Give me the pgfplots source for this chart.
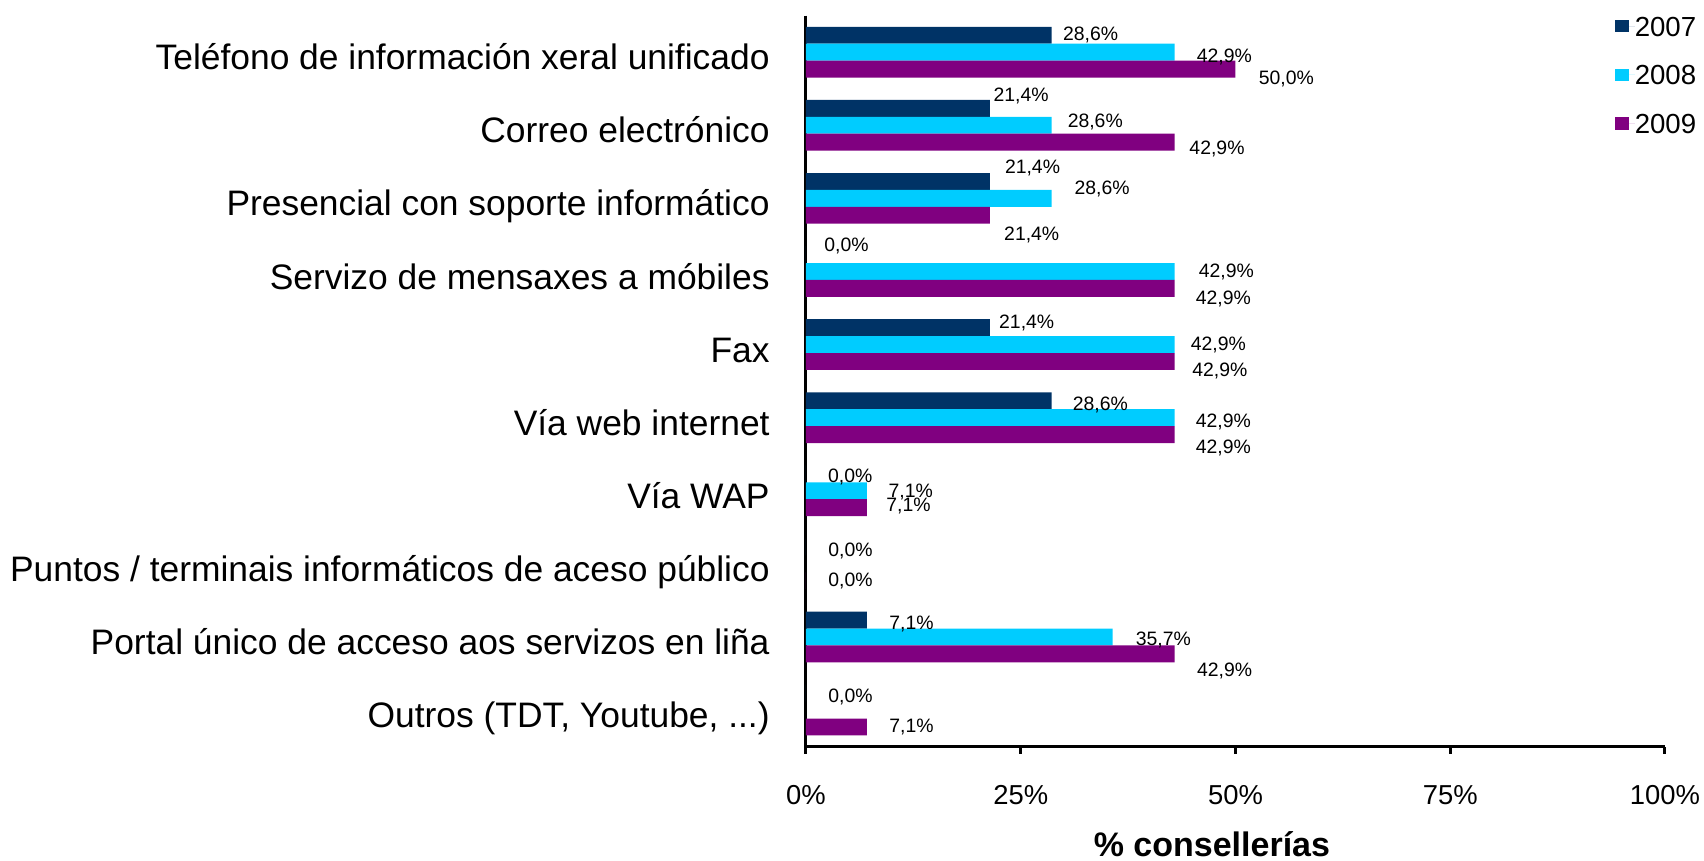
\documentclass[border=0pt]{standalone}
\usepackage{fontspec}
\setmainfont{Liberation Sans}
\usepackage{pgfplots}
\usepackage{pgfplotstable}
\pgfplotsset{compat=1.18}

\definecolor{c2007}{RGB}{0,51,102}
\definecolor{c2008}{RGB}{0,204,255}
\definecolor{c2009}{RGB}{128,0,128}
\newcommand{\puntos}{...}

% y = row (0 = top), x = value in %, dx/dy = label offset in pt
\pgfplotstableread{
y x dx dy
0 28.6 5.5 0
1 21.4 1.7 6
2 21.4 7.4 6.85
3 0 9 4.3
4 21.4 4.5 2.15
5 28.6 10.4 -2.25
6 0 10.9 -1.7
7 0 11 -1.8
8 7.1 11 -1.75
9 0 11 -1.9
}\tsiete
\pgfplotstableread{
y x dx dy
0 42.9 11 -2.35
1 28.6 7.85 1.85
2 28.6 11.3 4.5
3 42.9 12 -0.5
4 42.9 8 0
5 42.9 10.5 -2
6 7.1 10.65 -0.85
7 nan 0 0
8 35.7 11.4 -1.6
9 nan 0 0
}\tocho
\pgfplotstableread{
y x dx dy
0 50.0 11.5 -5.2
1 42.9 7.3 -3.35
2 21.4 7 -10
3 42.9 10.5 -5.5
4 42.9 8.75 -5
5 42.9 10.5 -6.5
6 7.1 9.5 0.95
7 0 11 -0.35
8 42.9 11.1 -8.8
9 7.1 11 -0.25
}\tnove

\pgfplotsset{
    etiq/.style={
        forget plot,
        visualization depends on={\thisrow{dx} \as \etdx},
        visualization depends on={\thisrow{dy} \as \etdy},
        nodes near coords={\pgfmathprintnumber[fixed, fixed zerofill, precision=1, use comma]{\pgfplotspointmeta}\%},
        nodes near coords style={anchor=west, inner sep=0pt, xshift=\etdx*1pt, yshift=\etdy*1pt,
                                 font=\fontsize{9.7}{11}\selectfont, text=black},
    },
}

\begin{document}
\begin{tikzpicture}
\begin{axis}[
    name=ax,
    scale only axis,
    width=429.5pt, height=365.5pt,
    xbar, bar width=8.45pt,
    xmin=0, xmax=100, ymin=-0.5, ymax=9.5,
    y dir=reverse,
    axis x line*=bottom, axis y line*=left,
    axis line style={-, line width=1.5pt, black},
    tick align=outside,
    major tick length=3.5pt, minor tick length=5.35pt,
    tick style={line width=1.5pt, black},
    ytick style={draw=none},
    minor y tick style={line width=1.5pt, black},
    xtick={0,25,50,75,100},
    xticklabels={0\%,25\%,50\%,75\%,100\%},
    xticklabel style={font=\fontsize{13.7}{16}\selectfont, anchor=base, inner sep=0pt, yshift=-25.2pt},
    ytick={0,1,2,3,4,5,6,7,8,9},
    minor ytick={-0.5,0.5,1.5,2.5,3.5,4.5,5.5,6.5,7.5,8.5,9.5},
    yticklabels={
        Teléfono de información xeral unificado,
        Correo electrónico,
        Presencial con soporte informático,
        Servizo de mensaxes a móbiles,
        Fax,
        Vía web internet,
        Vía WAP,
        Puntos / terminais informáticos de aceso público,
        Portal único de acceso aos servizos en liña,
        {Outros (TDT,  Youtube, \puntos)}},
    yticklabel style={font=\fontsize{17.7}{20}\selectfont, anchor=base east, inner sep=0pt,
                      xshift=-14.5pt, yshift=-8.8pt},
    xlabel={\% conseller\'ias},
    xlabel style={at={(axis description cs:0.4726,0)}, anchor=base, yshift=-55pt,
                  font=\bfseries\fontsize{17}{20}\selectfont},
    /pgf/number format/assume math mode=true,
    point meta=x,
    legend style={at={(axis description cs:0.9418,1)}, anchor=north west, yshift=0pt,
                  draw=none, fill=none, inner sep=0pt, row sep=14.45pt,
                  font=\fontsize{13.8}{16}\selectfont,
                  nodes={inner sep=0pt, text height=10pt, text depth=0pt}},
    legend cell align=left,
    legend image code/.code={\fill[#1] (0pt,-3.2pt) rectangle (7pt,3.2pt);
                             \path (0pt,0pt) -- (9.7pt,0pt);},
]
\addplot[fill=c2007, draw=none, bar shift=8.45pt, etiq] table[x=x, y=y] {\tsiete};
\addplot[fill=c2008, draw=none, bar shift=0pt, etiq] table[x=x, y=y] {\tocho};
\addplot[fill=c2009, draw=none, bar shift=-8.45pt, etiq] table[x=x, y=y] {\tnove};
\addlegendimage{fill=c2007, draw=none}
\addlegendentry{2007}
\addlegendimage{fill=c2008, draw=none}
\addlegendentry{2008}
\addlegendimage{fill=c2009, draw=none}
\addlegendentry{2009}
\end{axis}
\pgfresetboundingbox
\path (ax.south west) ++(-403pt,-57.2pt) rectangle ++(852pt,430.5pt);
\end{tikzpicture}
\end{document}
